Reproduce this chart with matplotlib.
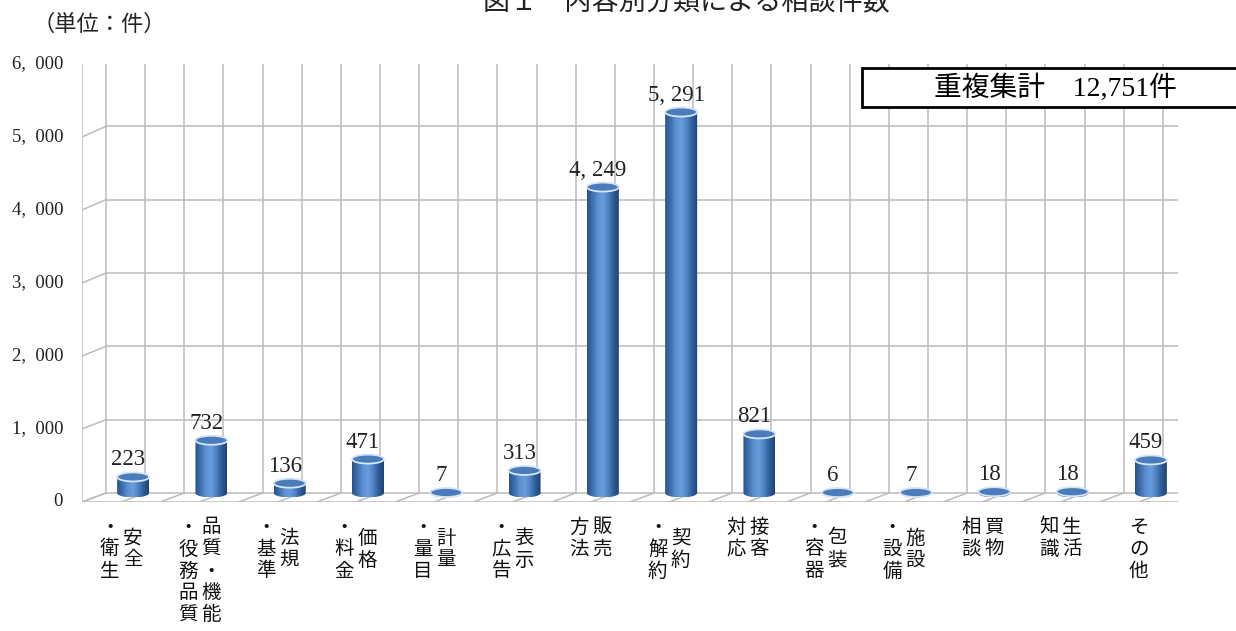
import numpy as np
import matplotlib
matplotlib.use("Agg")
import matplotlib.pyplot as plt
from matplotlib.patches import Polygon, Ellipse, Rectangle
from matplotlib.colors import LinearSegmentedColormap

# ---------------- data ----------------
categories = ["安全・衛生", "品質・機能・役務品質", "法規・基準", "価格・料金", "計量・量目",
              "表示・広告", "販売方法", "契約・解約", "接客対応", "包装・容器",
              "施設・設備", "買物相談", "生活知識", "その他"]
# vertical label columns (right column first, as read in vertical Japanese)
label_columns = [("安全", "・衛生"), ("品質・機能", "・役務品質"), ("法規", "・基準"),
                 ("価格", "・料金"), ("計量", "・量目"), ("表示", "・広告"),
                 ("販売", "方法"), ("契約", "・解約"), ("接客", "対応"),
                 ("包装", "・容器"), ("施設", "・設備"), ("買物", "相談"),
                 ("生活", "知識"), ("その他",)]
values = [223, 732, 136, 471, 7, 313, 4249, 5291, 821, 6, 7, 18, 18, 459]
yticks = [0, 1000, 2000, 3000, 4000, 5000, 6000]
ytick_labels = ["0", "1,\u2002000", "2,\u2002000", "3,\u2002000", "4,\u2002000",
                "5,\u2002000", "6,\u2002000"]
title = "図１　内容別分類による相談件数"
unit_label = "（単位：件）"
total_note = "重複集計　12,751件"

# ---------------- layout ----------------
W, H = 1236, 631
fig = plt.figure(figsize=(W / 100, H / 100), dpi=100)
fig.patch.set_facecolor("white")

X0, Y0 = 82, 502          # front-left-bottom corner (px)
PW, PH = 1096, 438        # front plane size (px)
ax = fig.add_axes([X0 / W, (H - Y0) / H, PW / W, PH / H])
n = len(values)
ymax = 6000
PXX = PW / n
PXY = PH / ymax

DX = 24 / PXX                 # depth offset in category units
BACK0 = 9 / PXY               # depth offset in value units
BACKS = 440 / 438             # slight perspective on the back wall


def back(v):
    return BACK0 + v * BACKS


grid_c = "#bcbcbc"
glw = 1.1
serif = ["Liberation Serif", "Noto Sans CJK JP"]
cjk = ["Noto Sans CJK JP", "DejaVu Sans"]

# back wall horizontal gridlines
for v in yticks:
    ax.plot([DX, n + DX], [back(v), back(v)], color=grid_c, lw=glw, zorder=1)
    # side (left) wall diagonals
    ax.plot([0, DX], [v, back(v)], color=grid_c, lw=glw, zorder=1)
# back wall vertical gridlines + floor diagonals (every half category)
for k in range(2 * n + 1):
    x = k * 0.5
    ax.plot([x + DX, x + DX], [back(0), back(ymax)], color=grid_c, lw=glw, zorder=1)
    ax.plot([x, x + DX], [0, back(0)], color=grid_c, lw=glw, zorder=1)
# left front edge, floor front edge, floor right edge
ax.plot([0, 0], [0, ymax], color=grid_c, lw=glw, zorder=1)
ax.plot([0, n], [0, 0], color=grid_c, lw=glw, zorder=1)
ax.plot([n, n + DX], [0, back(0)], color=grid_c, lw=glw, zorder=1)

# ---------------- cylinders ----------------
cmap = LinearSegmentedColormap.from_list(
    "cyl", ["#2a5488", "#3f6fae", "#5b90d2", "#6a9edc", "#4f82c2", "#2f5e98", "#1f4475"])
grad = np.linspace(0, 1, 64).reshape(1, -1)
bw = 32 / PXX
eh = 9 / PXY
base = 9 / PXY
bscale = 0.072 / 0.073

for i, v in enumerate(values):
    cx = i + 0.5 + DX / 2
    yb = base
    yt = base + v * bscale
    t = np.linspace(np.pi, 2 * np.pi, 60)
    pts = [(cx - bw / 2, yt)]
    pts += list(zip(cx + bw / 2 * np.cos(t), yb + eh / 2 * np.sin(t)))
    pts += [(cx + bw / 2, yt)]
    poly = Polygon(pts, closed=True, transform=ax.transData, facecolor="none", edgecolor="none")
    im = ax.imshow(grad, extent=[cx - bw / 2, cx + bw / 2, yb - eh / 2, yt], aspect="auto",
                   cmap=cmap, zorder=3, interpolation="bilinear")
    im.set_clip_path(poly)
    ax.add_patch(Ellipse((cx, yt), bw, eh, facecolor="#4a7cbc", edgecolor="#d6e4f5",
                         lw=1.3, zorder=4))
    lab = f"{v:,}".replace(",", ", ")
    ax.annotate(lab, xy=(cx, yt), xytext=(-5, 17), textcoords="offset pixels",
                ha="center", va="center", fontsize=16.5, family=serif, color="#222222", zorder=5)

ax.set_xlim(0, n)
ax.set_ylim(0, ymax)
ax.axis("off")

# y tick labels
for v, s in zip(yticks, ytick_labels):
    ax.annotate(s, xy=(0, v), xytext=(-19, 0), textcoords="offset pixels",
                ha="right", va="center", fontsize=13.5, family=serif, color="#222222",
                annotation_clip=False)

# vertical category labels
pitch = 22
first_row = 527
col_off = 11.5
for i, cols in enumerate(label_columns):
    nmax = max(len(c) for c in cols)
    if len(cols) == 1:
        offs = [0]
    else:
        offs = [col_off, -col_off]
    for c, ox in zip(cols, offs):
        shift = (nmax - len(c)) / 2
        for k, ch in enumerate(c):
            r = first_row + (k + shift) * pitch
            ax.annotate(ch, xy=(i + 0.5, 0), xytext=(ox, Y0 - r), textcoords="offset pixels",
                        ha="center", va="center", fontsize=14, family=cjk, color="#111111",
                        annotation_clip=False)

# title (partially cut at top, as in the source) and unit label
fig.text(686 / W, 1 - 2 / H, title, ha="center", va="center", fontsize=19.5,
         family=cjk, color="#222222")
fig.text(33 / W, 1 - 24 / H, unit_label, ha="left", va="center", fontsize=16,
         family=cjk, color="#222222")

# total box
box = Rectangle((862 / W, 1 - 107 / H), 400 / W, 39 / H, transform=fig.transFigure,
                facecolor="white", edgecolor="black", lw=2, zorder=10)
fig.add_artist(box)
fig.text(1055 / W, 1 - 88 / H, total_note, ha="center", va="center", fontsize=20,
         family=serif, color="black", zorder=11)

fig.savefig("out.png", dpi=100, facecolor="white")
